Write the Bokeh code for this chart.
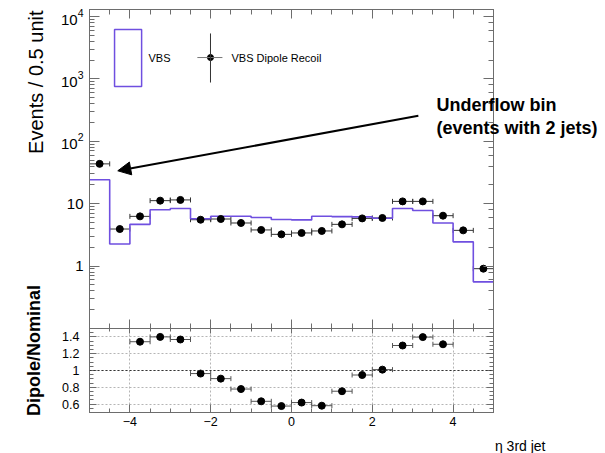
import math

from bokeh.embed import file_html
from bokeh.layouts import column
from bokeh.models import (Arrow, BoxAnnotation, ColumnDataSource, CustomJSTickFormatter,
                          Label, LinearAxis, LogAxis, LogTicker, LogTickFormatter,
                          NormalHead, Range1d, SingleIntervalTicker, Span, TeeHead, Whisker)
from bokeh.plotting import figure
from bokeh.resources import INLINE

# eta of the 3rd jet, 0.5-wide bins (first bin also collects events with only 2 jets)
eta_centers = [-4.75, -4.25, -3.75, -3.25, -2.75, -2.25, -1.75, -1.25, -0.75, -0.25,
               0.25, 0.75, 1.25, 1.75, 2.25, 2.75, 3.25, 3.75, 4.25, 4.75]
vbs_nominal = [24.2, 2.26, 4.67, 8.0, 8.4, 5.75, 6.3, 6.3, 6.0, 5.6,
               5.5, 6.3, 6.2, 6.15, 5.85, 8.4, 7.8, 4.9, 2.45, 0.56]
vbs_dipole = [43.5, 3.93, 6.27, 11.2, 11.5, 5.54, 5.69, 4.91, 3.80, 3.23,
              3.40, 3.66, 4.67, 5.82, 5.91, 10.9, 10.9, 6.43, 3.74, 0.91]
bin_half_width = 0.25

FONT = "Liberation Sans"
AXIS_GRAY = "#6d6d6d"
VIOLET = "#6f4fe0"
X_LO, X_HI = -5.0, 5.0
Y_LO, Y_HI = 0.1001, 12950.0
R_LO, R_HI = 0.5, 1.5
W, H = 605, 453

NO_LABELS = "return '';"


def style_axis(ax, major, minor, size=None, standoff=6):
    ax.axis_line_color = AXIS_GRAY
    ax.major_tick_line_color = AXIS_GRAY
    ax.minor_tick_line_color = AXIS_GRAY
    ax.major_tick_in = major
    ax.major_tick_out = 0
    ax.minor_tick_in = minor
    ax.minor_tick_out = 0
    if size is None:
        ax.formatter = CustomJSTickFormatter(code=NO_LABELS)
        ax.major_label_standoff = 0
    else:
        ax.major_label_text_font = FONT
        ax.major_label_text_font_size = size
        ax.major_label_text_color = "black"
        ax.major_label_standoff = standoff


def frame_label(fig, dx, dy, text, **kw):
    """Text placed dx, dy pixels from the frame's lower-left corner."""
    props = dict(text_font=FONT, text_color="black")
    props.update(kw)
    fig.add_layout(Label(x=dx, y=dy, x_units="screen", y_units="screen", text=text, **props))


# ---------------- upper pad: event counts ----------------
edges = [c - bin_half_width for c in eta_centers] + [eta_centers[-1] + bin_half_width]
step_y = vbs_nominal + [vbs_nominal[-1]]

top = figure(width=W, height=348, x_range=Range1d(X_LO, X_HI), y_range=Range1d(Y_LO, Y_HI),
             y_axis_type="log", output_backend="svg", toolbar_location=None,
             min_border_left=89, min_border_right=112, min_border_top=9, min_border_bottom=20)
top.xgrid.visible = False
top.ygrid.visible = False
top.outline_line_color = AXIS_GRAY
top.background_fill_color = "white"
top.border_fill_color = "white"

top.xaxis.ticker = SingleIntervalTicker(interval=2, num_minor_ticks=4)
style_axis(top.xaxis[0], 9, 5)
top.yaxis.formatter = LogTickFormatter(min_exponent=1)
top.yaxis.major_label_overrides = {10: "10", 1: "1"}
style_axis(top.yaxis[0], 10, 5, "15px", 6)
ax_top = LinearAxis(ticker=SingleIntervalTicker(interval=2, num_minor_ticks=4))
style_axis(ax_top, 9, 5)
top.add_layout(ax_top, "above")
ax_right = LogAxis(ticker=LogTicker())
style_axis(ax_right, 10, 5)
top.add_layout(ax_right, "right")

top.step(x=edges, y=step_y, mode="after", line_color=VIOLET, line_width=1.6)

src = ColumnDataSource(dict(
    x=eta_centers, y=vbs_dipole,
    lo=[c - bin_half_width for c in eta_centers],
    hi=[c + bin_half_width for c in eta_centers],
))
top.add_layout(Whisker(source=src, base="y", lower="lo", upper="hi", dimension="width",
                       line_color="#333333", line_width=1,
                       lower_head=TeeHead(size=5, line_color="#333333"),
                       upper_head=TeeHead(size=5, line_color="#333333")))
top.scatter("x", "y", source=src, size=7, color="black")

# legend (drawn by hand, ROOT style: box for the histogram, cross for the points)
top.add_layout(BoxAnnotation(left=-4.38, right=-3.71, bottom=755, top=6170,
                             fill_alpha=0, line_color=VIOLET, line_alpha=1, line_width=1.5))
frame_label(top, 59, 271, "VBS", text_baseline="middle", text_font_size="11px")
top.add_layout(Arrow(x_start=-2.33, y_start=2200, x_end=-1.71, y_end=2200, end=None,
                     line_color="#777777", line_width=1))
top.add_layout(Arrow(x_start=-2.005, y_start=5350, x_end=-2.005, y_end=875, end=None,
                     line_color="#333333", line_width=1))
top.scatter(x=[-2.005], y=[2200], size=6, color="black")
frame_label(top, 142, 271, "VBS Dipole Recoil", text_baseline="middle", text_font_size="11px")

# arrow pointing at the underflow bin
top.add_layout(Arrow(x_start=3.14, y_start=256, x_end=-4.30, y_end=33.7,
                     end=NormalHead(size=13, fill_color="black", line_color="black"),
                     line_color="black", line_width=2))

# ---------------- lower pad: Dipole / Nominal ratio ----------------
ratio = [d / n for d, n in zip(vbs_dipole, vbs_nominal)]
keep = [i for i, r in enumerate(ratio) if R_LO <= r <= R_HI]
rsrc = ColumnDataSource(dict(
    x=[eta_centers[i] for i in keep],
    y=[ratio[i] for i in keep],
    lo=[eta_centers[i] - bin_half_width for i in keep],
    hi=[eta_centers[i] + bin_half_width for i in keep],
))

bot = figure(width=W, height=175, x_range=top.x_range, y_range=Range1d(R_LO, R_HI),
             output_backend="svg", toolbar_location=None,
             min_border_left=89, min_border_right=112, min_border_top=50, min_border_bottom=41)
bot.margin = (-70, 0, 0, 0)
bot.border_fill_alpha = 0
bot.background_fill_color = "white"
bot.outline_line_color = AXIS_GRAY

bot.xaxis.ticker = SingleIntervalTicker(interval=2, num_minor_ticks=4)
bot.xaxis.formatter = CustomJSTickFormatter(
    code="const v = Math.round(tick); return v < 0 ? '\\u2212' + (-v) : '' + v;")
style_axis(bot.xaxis[0], 8, 4, "12.5px", 4)
bot.yaxis.ticker = SingleIntervalTicker(interval=0.2, num_minor_ticks=4)
bot.yaxis.formatter = CustomJSTickFormatter(code="return String(Math.round(tick * 10) / 10);")
style_axis(bot.yaxis[0], 7, 4, "12.5px", 10)
bax_top = LinearAxis(ticker=SingleIntervalTicker(interval=2, num_minor_ticks=4))
style_axis(bax_top, 5, 3)
bot.add_layout(bax_top, "above")
bax_right = LinearAxis(ticker=SingleIntervalTicker(interval=0.2, num_minor_ticks=4))
style_axis(bax_right, 7, 4)
bot.add_layout(bax_right, "right")

for g in (bot.xgrid[0], bot.ygrid[0]):
    g.grid_line_color = "#b5b5b5"
    g.grid_line_dash = "2 2"
    g.grid_line_width = 1
bot.add_layout(Span(location=1.0, dimension="width", line_color="#333333",
                    line_dash="2 2", line_width=1))

bot.add_layout(Whisker(source=rsrc, base="y", lower="lo", upper="hi", dimension="width",
                       line_color="#555555", line_width=1,
                       lower_head=TeeHead(size=5, line_color="#555555"),
                       upper_head=TeeHead(size=5, line_color="#555555")))
bot.scatter("x", "y", source=rsrc, size=7, color="black")

# ---------------- transparent text layer over both pads ----------------
# pixel coordinates, origin at the top-left of the page
page = figure(width=W, height=H, x_range=Range1d(0, W), y_range=Range1d(H, 0),
              x_axis_type=None, y_axis_type=None, output_backend="svg", toolbar_location=None,
              min_border=0, min_border_left=0, min_border_right=0,
              min_border_top=0, min_border_bottom=0, outline_line_color=None)
page.frame_align = False
page.margin = (-H, 0, 0, 0)
page.background_fill_alpha = 0
page.border_fill_alpha = 0


def page_text(x, y, text, **kw):
    props = dict(text_font=FONT, text_color="black")
    props.update(kw)
    page.add_layout(Label(x=x, y=y, text=text, **props))


page_text(35, 10, "Events / 0.5 unit", angle=math.pi / 2, text_align="right",
          text_baseline="alphabetic", text_font_size="20px")
page_text(33, 350, "Dipole/Nominal", angle=math.pi / 2, text_align="center",
          text_baseline="alphabetic", text_font_size="18px", text_font_style="bold")
page_text(545, 445, "\u03b7 3rd jet", text_align="right", text_baseline="alphabetic",
          text_font_size="14px")
page_text(436, 114, "Underflow bin", text_font_size="18px", text_font_style="bold")
page_text(436, 137, "(events with 2 jets)", text_font_size="18px", text_font_style="bold")

layout = column(top, bot, page)
open("out.html", "w").write(file_html(layout, INLINE))
